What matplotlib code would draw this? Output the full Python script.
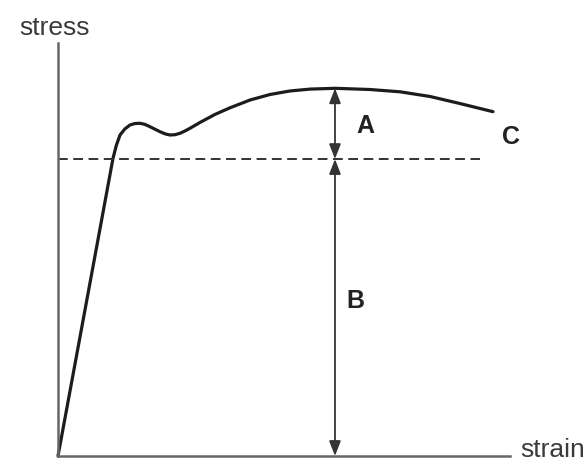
import matplotlib
matplotlib.use("Agg")
import matplotlib.pyplot as plt

# Data (arbitrary units: strain 0-100, stress 0-100)
strain = [0.0, 12.17, 12.9, 13.72, 14.8, 15.93, 17.0, 18.14, 19.2, 20.35, 21.5,
          22.57, 23.7, 24.78, 25.9, 26.99, 28.1, 29.20, 31.4, 34.7, 38.05,
          42.5, 46.9, 51.3, 55.8, 61.28, 69.0, 75.7, 82.3, 88.9, 96.24]
stress = [0.0, 72.08, 75.2, 77.72, 79.2, 80.15, 80.5, 80.56, 80.3, 79.73, 79.1,
          78.52, 78.0, 77.72, 77.8, 78.14, 78.7, 79.35, 80.75, 82.69, 84.31,
          86.20, 87.53, 88.38, 88.84, 89.03, 88.74, 88.18, 87.05, 85.35, 83.37]
yield_stress = 71.9
dash_end = 93.4
arrow_strain = 61.28
uts = 89.03
labels = {"A": (68.1, 79.9), "B": (65.7, 37.5), "C": (100.2, 77.2)}

plt.rcParams['lines.scale_dashes'] = False
fig = plt.figure(figsize=(5.86, 4.66), dpi=100)
W, H = 586, 466
ax = fig.add_axes([58 / W, (H - 456) / H, (510 - 58) / W, (456 - 43) / H])
ax.set_xlim(0, 100)
ax.set_ylim(0, 100)
for s in ["top", "right"]:
    ax.spines[s].set_visible(False)
for s in ["left", "bottom"]:
    ax.spines[s].set_color("#666666")
    ax.spines[s].set_linewidth(1.8)
ax.set_xticks([])
ax.set_yticks([])
ax.patch.set_alpha(0)

ax.plot(strain, stress, color="#1c1c1c", lw=2.3, solid_joinstyle="round",
        solid_capstyle="round", clip_on=False)
ax.plot([0, dash_end], [yield_stress, yield_stress], color="#333333", lw=1.4,
        dashes=(7, 4))

akw = dict(arrowstyle="<|-|>,head_length=0.9,head_width=0.35", color="#333333",
           lw=1.3, shrinkA=0, shrinkB=0)
ax.annotate("", xy=(arrow_strain, uts), xytext=(arrow_strain, yield_stress),
            arrowprops=akw)
ax.annotate("", xy=(arrow_strain, yield_stress), xytext=(arrow_strain, 0),
            arrowprops=akw)

for k, (x, y) in labels.items():
    ax.text(x, y, k, fontsize=18, fontweight="bold", family="Liberation Sans",
            color="#222222", ha="center", va="center")

ax.text(-0.85, 101.9, "stress", fontsize=19, family="Liberation Sans",
        color="#3a3a3a", ha="center", va="baseline", clip_on=False)
ax.text(102.2, -0.25, "strain", fontsize=19, family="Liberation Sans",
        color="#3a3a3a", ha="left", va="baseline", clip_on=False)

fig.savefig("out.png", dpi=100, facecolor="white")
